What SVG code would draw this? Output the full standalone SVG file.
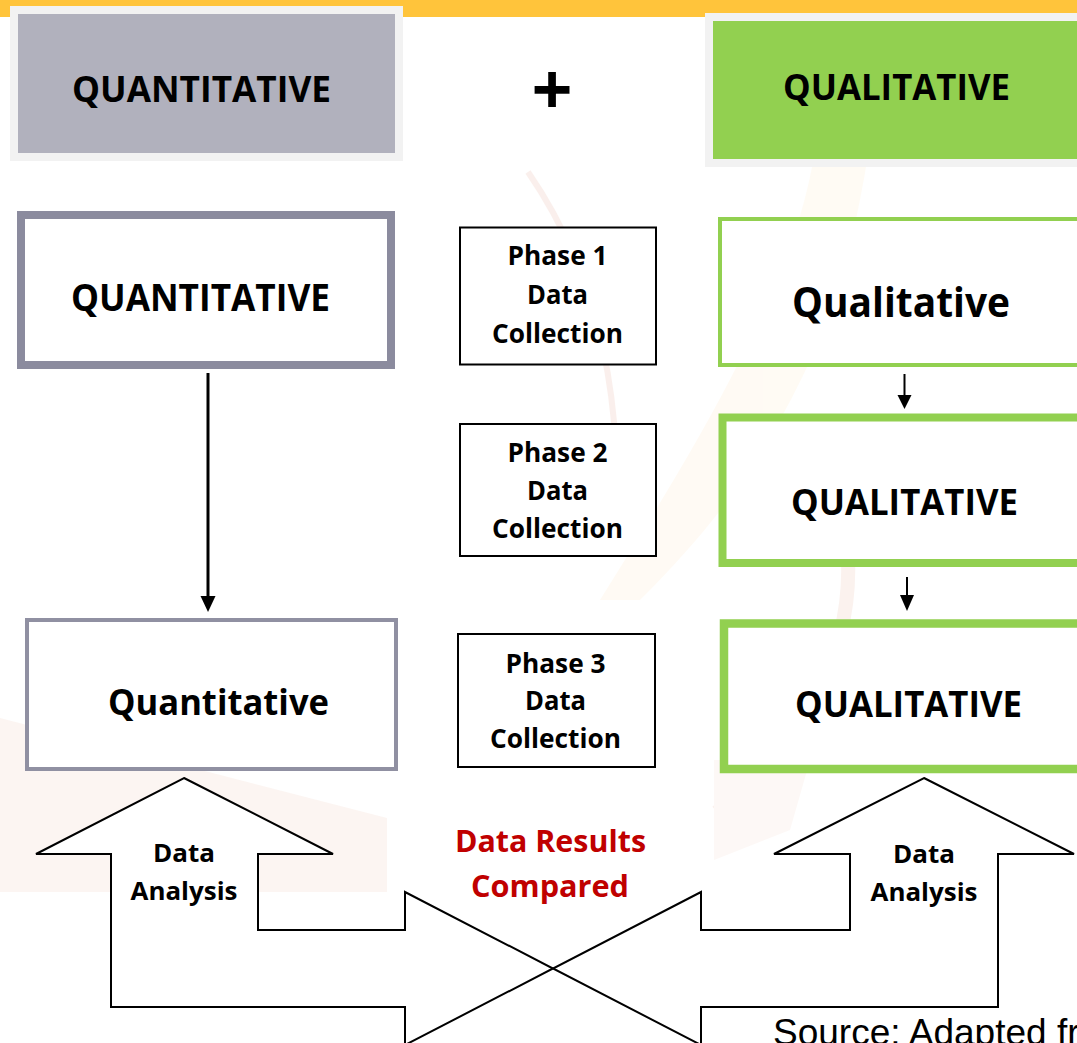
<svg xmlns="http://www.w3.org/2000/svg" width="1077" height="1043" viewBox="0 0 1077 1043">
<style>
.t{font-family:"Open Sans","Noto Sans","DejaVu Sans",sans-serif;font-weight:bold;fill:#000;text-anchor:middle}
.ph{font-size:26px}
.lab{font-size:25px}
.big{font-size:36px}
.red{fill:#C00000;font-size:29.5px}
.phase{fill:#fff;stroke:#000;stroke-width:2}
.conn{stroke:#000;fill:none}
.head{fill:#000;stroke:none}
.bigarrow{fill:#fff;stroke:#000;stroke-width:2;stroke-linejoin:miter}
</style>
<rect x="0" y="0" width="1077" height="1043" fill="#fff"/>
<g id="watermark" opacity="0.6">
<path d="M0,718 L387,818 L387,892 L0,892 Z" fill="#FAEFEA"/>
<path d="M812,167 L866,167 C850,260 830,330 780,420 C740,490 700,540 640,600 L600,600 C650,520 700,440 740,360 C775,290 800,230 812,167 Z" fill="#FFF8ED"/>
<path d="M528,172 C575,240 610,330 616,450" fill="none" stroke="#F8E6E0" stroke-width="6"/>
<path d="M848,560 C852,660 800,740 717,812" fill="none" stroke="#F9EAE4" stroke-width="14"/>
<path d="M714,760 L810,760 L790,830 L714,860 Z" fill="#FDF5F1"/>
</g>
<rect id="topbar" x="0" y="0" width="1077" height="17" fill="#FFC43B"/>
<g id="hdr-quant">
<rect x="14" y="10" width="385" height="147" fill="#B1B1BD" stroke="#F2F2F2" stroke-width="8"/>
<text class="t big" x="201.5" y="102" textLength="259" lengthAdjust="spacingAndGlyphs">QUANTITATIVE</text>
</g>
<g id="plus">
<text class="t" x="552" y="115" font-size="72">+</text>
</g>
<g id="hdr-qual">
<rect x="709" y="17" width="400" height="146" fill="#92D050" stroke="#F2F2F2" stroke-width="8"/>
<text class="t big" x="896.5" y="100" textLength="227" lengthAdjust="spacingAndGlyphs">QUALITATIVE</text>
</g>
<g id="quant1">
<rect x="21" y="215" width="370" height="150" fill="#fff" stroke="#8B8B9E" stroke-width="8"/>
<text class="t" x="200.5" y="311" font-size="37.5" textLength="259" lengthAdjust="spacingAndGlyphs">QUANTITATIVE</text>
</g>
<g id="phase1">
<rect class="phase" x="460" y="227.5" width="196" height="137"/>
<text class="t ph" x="557.5" y="265" textLength="100" lengthAdjust="spacingAndGlyphs">Phase 1</text>
<text class="t ph" x="557.5" y="304" textLength="61" lengthAdjust="spacingAndGlyphs">Data</text>
<text class="t ph" x="557.5" y="343" textLength="131" lengthAdjust="spacingAndGlyphs">Collection</text>
</g>
<g id="qual1">
<rect x="720" y="219" width="400" height="146" fill="#fff" stroke="#92D050" stroke-width="4"/>
<text class="t" x="901" y="317" font-size="40.5" textLength="218" lengthAdjust="spacingAndGlyphs">Qualitative</text>
</g>
<g id="phase2">
<rect class="phase" x="460" y="424" width="196" height="132"/>
<text class="t ph" x="557.5" y="462" textLength="100" lengthAdjust="spacingAndGlyphs">Phase 2</text>
<text class="t ph" x="557.5" y="500" textLength="61" lengthAdjust="spacingAndGlyphs">Data</text>
<text class="t ph" x="557.5" y="538" textLength="131" lengthAdjust="spacingAndGlyphs">Collection</text>
</g>
<g id="qual2">
<rect x="722.5" y="417.5" width="400" height="145.5" fill="#fff" stroke="#92D050" stroke-width="8"/>
<text class="t big" x="904.5" y="515" textLength="227" lengthAdjust="spacingAndGlyphs">QUALITATIVE</text>
</g>
<g id="quant3">
<rect x="27" y="620" width="369" height="149" fill="#fff" stroke="#9090A2" stroke-width="4"/>
<text class="t" x="218.5" y="715" font-size="36.5" textLength="221" lengthAdjust="spacingAndGlyphs">Quantitative</text>
</g>
<g id="phase3">
<rect class="phase" x="458" y="634" width="197" height="133"/>
<text class="t ph" x="555.5" y="673" textLength="100" lengthAdjust="spacingAndGlyphs">Phase 3</text>
<text class="t ph" x="555.5" y="710" textLength="61" lengthAdjust="spacingAndGlyphs">Data</text>
<text class="t ph" x="555.5" y="748" textLength="131" lengthAdjust="spacingAndGlyphs">Collection</text>
</g>
<g id="qual3">
<rect x="724" y="623.5" width="400" height="145.5" fill="#fff" stroke="#92D050" stroke-width="8.5"/>
<text class="t big" x="908.5" y="717" textLength="227" lengthAdjust="spacingAndGlyphs">QUALITATIVE</text>
</g>
<g id="connectors">
<line class="conn" x1="208" y1="373" x2="208" y2="598" stroke-width="3"/>
<polygon class="head" points="200.5,596 215.5,596 208,612"/>
<line class="conn" x1="904.5" y1="374" x2="904.5" y2="396" stroke-width="2"/>
<polygon class="head" points="897.5,395 911.5,395 904.5,409"/>
<line class="conn" x1="907" y1="577" x2="907" y2="596" stroke-width="2"/>
<polygon class="head" points="900,595 914,595 907,611"/>
</g>
<g id="analysis-quant">
<polygon class="bigarrow" points="184,778 333,854 258,854 258,930 405,930 405,892 553,968.5 405,1045 405,1007 111,1007 111,854 36,854"/>
<text class="t lab" x="184" y="862" textLength="62" lengthAdjust="spacingAndGlyphs">Data</text>
<text class="t lab" x="184" y="900" textLength="107" lengthAdjust="spacingAndGlyphs">Analysis</text>
</g>
<g id="analysis-qual">
<polygon class="bigarrow" points="924,778 1074,854 998,854 998,1007 701,1007 701,1045 553,968.5 701,892 701,930 850,930 850,854 774,854"/>
<text class="t lab" x="924" y="863" textLength="62" lengthAdjust="spacingAndGlyphs">Data</text>
<text class="t lab" x="924" y="901" textLength="107" lengthAdjust="spacingAndGlyphs">Analysis</text>
</g>
<g id="compared">
<text class="t red" x="550.5" y="852" textLength="191" lengthAdjust="spacingAndGlyphs">Data Results</text>
<text class="t red" x="550" y="897" textLength="158" lengthAdjust="spacingAndGlyphs">Compared</text>
</g>
<text id="source" x="773" y="1045" font-family="'Liberation Sans',Arial,sans-serif" font-size="37" fill="#000">Source: Adapted fr</text>
</svg>
